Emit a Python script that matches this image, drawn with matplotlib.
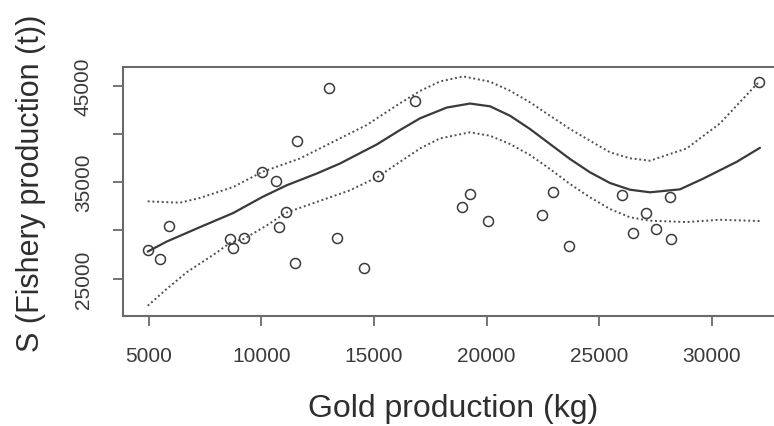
import matplotlib
matplotlib.use("Agg")
import matplotlib.pyplot as plt

# Observed data (Gold production kg, Fishery production t)
gold = [4965, 5510, 5910, 8616, 8765, 9237, 10050, 10657, 11100, 10790,
        11575, 11485, 13008, 13350, 14560, 15170, 16810, 19263, 18922, 20075,
        22444, 22932, 23670, 26007, 26510, 27072, 27515, 28137, 28167, 32070]
fishery = [28000, 27030, 30400, 29080, 28150, 29250, 36060, 35120, 31900, 30330,
           39250, 26615, 44810, 29250, 26060, 35650, 43420, 33800, 32450, 30920,
           31615, 33980, 28385, 33700, 29670, 31790, 30085, 33460, 29080, 45365]

# Smooth fit
fit_x = [4965, 5807, 7285, 8764, 10050, 11130, 12460, 13496, 15124, 16158, 17045,
         18230, 19263, 20150, 21038, 21925, 22812, 23700, 24587, 25474, 26362,
         27249, 28580, 29615, 31095, 32130]
fit_y = [27790, 28830, 30330, 31800, 33455, 34670, 35885, 36930, 38900, 40400, 41615,
         42730, 43150, 42863, 41888, 40508, 38952, 37396, 36017, 34907, 34212,
         33942, 34250, 35365, 37100, 38560]

# Upper confidence band
up_x = [4965, 6397, 7285, 8764, 10050, 11720, 13200, 14680, 16158, 17045, 17932,
        18967, 20150, 21038, 21925, 22812, 23700, 24587, 25474, 26362, 27249,
        28875, 30355, 32070]
up_y = [33000, 32865, 33355, 34500, 36060, 37450, 39190, 40920, 43180, 44450, 45440,
        45960, 45415, 44481, 43278, 41888, 40508, 39295, 38091, 37469, 37220,
        38490, 41090, 45365]

# Lower confidence band
lo_x = [4965, 5807, 6694, 8030, 8616, 9237, 10243, 11100, 12460, 13940, 15170,
        16158, 17045, 17932, 19263, 20150, 21038, 21925, 22812, 23700, 24587,
        25474, 26362, 27249, 28875, 30355, 32130]
lo_y = [22170, 23910, 25645, 27700, 28700, 29115, 30500, 31820, 32935, 34150, 35540,
        37100, 38490, 39530, 40166, 39813, 38952, 37811, 36359, 34803, 33423,
        32210, 31349, 30996, 30855, 31095, 30960]

x_ticks = [5000, 10000, 15000, 20000, 25000, 30000]
y_ticks = [25000, 30000, 35000, 40000, 45000]
y_ticklabels = ["25000", "", "35000", "", "45000"]

plt.rcParams['font.family'] = ['Liberation Sans', 'DejaVu Sans']

fig = plt.figure(figsize=(7.74, 4.27), dpi=100)
W, H = 774, 427
left, right, top, bottom = 122.7, 784, 68, 317
ax = fig.add_axes([left / W, 1 - bottom / H, (right - left) / W, (bottom - top) / H])

ink = '#3a3a3a'
ax.plot(fit_x, fit_y, color=ink, lw=1.6, solid_capstyle='round', solid_joinstyle='round')
ax.plot(up_x, up_y, color='#505050', lw=1.4, linestyle=(0, (1, 1.4)))
ax.plot(lo_x, lo_y, color='#505050', lw=1.4, linestyle=(0, (1, 1.4)))
ax.plot(gold, fishery, linestyle='none', marker='o', markersize=7.2,
        markerfacecolor='none', markeredgecolor=ink, markeredgewidth=1.1)

ax.set_xlim(3855, 33195)
ax.set_ylim(21110, 46940)

ax.set_xticks(x_ticks)
ax.set_xticklabels([str(v) for v in x_ticks])
ax.set_yticks(y_ticks)
ax.set_yticklabels(y_ticklabels, rotation=90, va='center')

for s in ax.spines.values():
    s.set_color('#6a6a6a')
    s.set_linewidth(1.5)
ax.tick_params(axis='both', direction='out', length=7.5, width=1.3, color='#6a6a6a',
               labelsize=15, labelcolor='#3a3a3a', pad=14)

ax.set_xlabel('Gold production (kg)', fontsize=23, color='#2e2e2e', labelpad=20)
ax.set_ylabel('S (Fishery production (t))', fontsize=22, color='#2e2e2e',
              va='center', ha='center')
ax.yaxis.set_label_coords(-0.139, 0.535)

fig.savefig('out.png', dpi=100)
